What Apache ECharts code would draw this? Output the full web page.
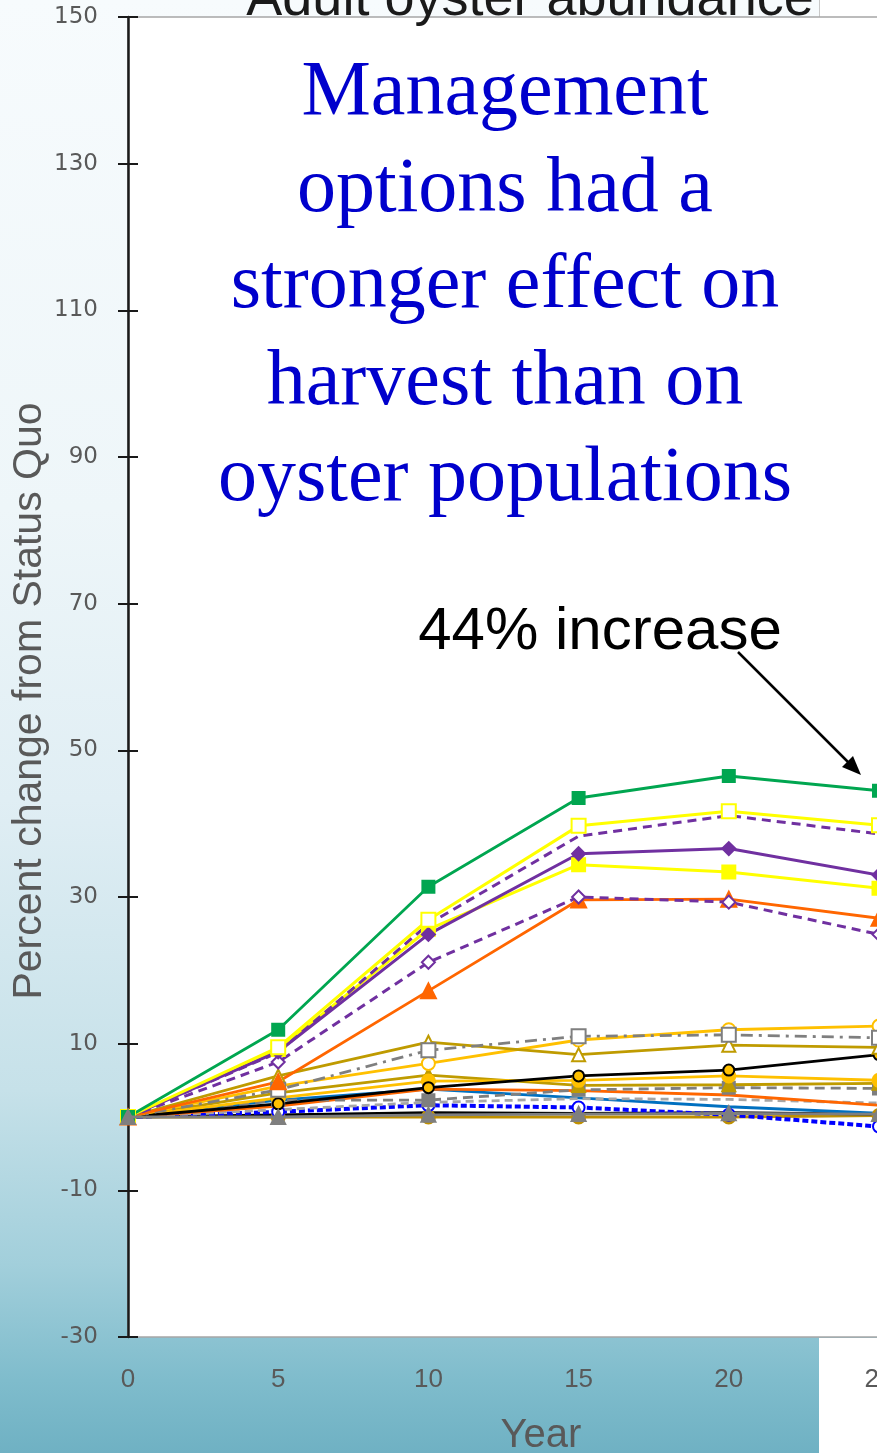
<!DOCTYPE html>
<html>
<head>
<meta charset="utf-8">
<script src="https://cdn.jsdelivr.net/npm/echarts@6/dist/echarts.min.js"></script>
<style>
html,body{margin:0;padding:0;}
#chart{width:877px;height:1453px;background:linear-gradient(180deg,#f7fbfd 0%,#eef6f9 35%,#e0eef4 55%,#c6e1e9 75%,#a2cfdb 87%,#7fbccc 95%,#6fb1c3 100%);}
</style>
</head>
<body>
<div id="chart"></div>
<script>
// ---- data ----
var years = [0, 5, 10, 15, 20, 25];
var yTicks = [-30, -10, 10, 30, 50, 70, 90, 110, 130, 150];
var greenSq        = [0, 11.9, 31.4, 43.5, 46.5, 44.5];
var yellowOpenSq   = [0, 9.5, 26.9, 39.7, 41.7, 39.8];
var purpleDash     = [0, 8.8, 26.3, 38.3, 41.1, 38.6];
var purpleDiamond  = [0, 8.9, 24.9, 35.9, 36.6, 33.0];
var yellowSq       = [0, 9.2, 25.6, 34.4, 33.4, 31.2];
var purpleOpenDia  = [0, 7.5, 21.1, 30.0, 29.3, 24.9];
var orangeTri      = [0, 4.8, 17.2, 29.6, 29.7, 27.1];
var greyDashDotSq  = [0, 3.7, 9.1, 11.0, 11.2, 10.8];
var oliveOpenTri   = [0, 5.6, 10.2, 8.5, 9.8, 9.5];
var goldOpenCircle = [0, 4.2, 7.3, 10.5, 11.9, 12.4];
var blackLine      = [0, 1.8, 4.0, 5.6, 6.4, 8.5];
var goldCircle     = [0, 2.6, 4.9, 5.0, 5.6, 5.0];
var oliveTri       = [0, 3.3, 5.7, 4.3, 4.4, 4.6];
var greyDashSq     = [0, 2.3, 2.3, 3.7, 4.0, 3.9];
var orangeLine     = [0, 1.5, 3.8, 3.6, 3.0, 1.6];
var greyDashLight  = [0, 1.0, 2.0, 2.5, 2.4, 1.9];
var blueLine       = [0, 2.3, 3.8, 2.6, 1.4, 0.5];
var blueDash       = [0, 0.7, 1.6, 1.3, 0.3, -1.3];
var blackZero      = [0, 0.3, 0.6, 0.5, 0.6, 0.4];
var darkGoldCircle = [0, 0, 0, 0, 0, 0.2];
var greyTri        = [0, 0, 0.3, 0.4, 0.5, 0.4];

function pts(arr){ return arr.map(function(v,i){ return [years[i], v]; }); }
function S(name, data, color, opt){
  opt = opt || {};
  return {
    name: name, type: 'line', data: pts(data),
    symbol: opt.symbol || 'none', symbolSize: opt.size || 12,
    lineStyle: {color: color, width: opt.width || 2.8, type: opt.dash || 'solid'},
    itemStyle: {color: opt.mcolor || color, borderColor: opt.bcolor || color, borderWidth: opt.bw || 2},
    z: opt.z || 2, animation: false, silent: true, clip: true
  };
}

var series = [
  S('darkGoldCircle', darkGoldCircle, '#bf9000', {symbol:'circle', size:13}),
  S('blackZero', blackZero, '#000000', {}),
  S('blueDash', blueDash, '#0000ff', {width:4, dash:[6,3], symbol:'emptyCircle', size:12}),
  S('blueLine', blueLine, '#0070c0', {}),
  S('greyDashLight', greyDashLight, '#a6a6a6', {dash:[8,5]}),
  S('orangeLine', orangeLine, '#ff6600', {}),
  S('greyDashSq', greyDashSq, '#7f7f7f', {dash:[10,6], symbol:'rect', size:12}),
  S('oliveTri', oliveTri, '#bf9b00', {symbol:'triangle', size:13}),
  S('goldCircle', goldCircle, '#ffc000', {symbol:'circle', size:13}),
  S('blackLine', blackLine, '#000000', {symbol:'circle', size:11, mcolor:'#ffc000', bcolor:'#000'}),
  S('goldOpenCircle', goldOpenCircle, '#ffc000', {symbol:'emptyCircle', size:13}),
  S('oliveOpenTri', oliveOpenTri, '#bf9b00', {symbol:'emptyTriangle', size:13}),
  S('greyDashDotSq', greyDashDotSq, '#7f7f7f', {dash:[12,6,3,6], symbol:'emptyRect', size:14}),
  S('orangeTri', orangeTri, '#ff6600', {symbol:'triangle', size:15}),
  S('purpleOpenDia', purpleOpenDia, '#7030a0', {dash:[9,6], width:3, symbol:'emptyDiamond', size:13}),
  S('yellowSq', yellowSq, '#ffff00', {symbol:'rect', size:13, width:3}),
  S('purpleDiamond', purpleDiamond, '#7030a0', {symbol:'diamond', size:13, width:3}),
  S('purpleDash', purpleDash, '#7030a0', {dash:[9,6], width:3}),
  S('yellowOpenSq', yellowOpenSq, '#ffff00', {symbol:'emptyRect', size:14, width:3}),
  S('greenSq', greenSq, '#00a650', {symbol:'rect', size:12, width:2.8}),
  S('greyTri', greyTri, '#7f7f7f', {symbol:'triangle', size:14, z:3})
];

var chart = echarts.init(document.getElementById('chart'), null, {renderer:'canvas'});
var gridLeft = 128, gridTop = 17, gridH = 1320, gridW = 751;
var blueFont = '78px "Liberation Serif"';
chart.setOption({
  backgroundColor: 'transparent',
  animation: false,
  grid: {left: gridLeft, top: gridTop, width: gridW, height: gridH, show: true,
         outerBoundsMode: 'none', containLabel: false,
         backgroundColor: '#ffffff', borderColor: '#a6a6a6', borderWidth: 1.5},
  xAxis: {type:'value', min:0, max:25, interval:5,
    axisLine:{show:false}, axisTick:{show:false}, splitLine:{show:false},
    axisLabel:{color:'#595959', fontFamily:'Liberation Sans', fontSize:26, margin:30, showMaxLabel:true, hideOverlap:false}
  },
  yAxis: [
    {type:'value', min:yTicks[0], max:yTicks[yTicks.length-1], interval:20,
     axisLine:{show:true, lineStyle:{color:'#1a1a1a', width:2.5}},
     axisTick:{show:true, length:10, lineStyle:{color:'#1a1a1a', width:2}},
     splitLine:{show:false},
     axisLabel:{color:'#595959', fontFamily:'DejaVu Sans', fontSize:23, margin:30}
    },
    {type:'value', min:yTicks[0], max:yTicks[yTicks.length-1], interval:20, position:'left',
     axisLine:{show:false}, axisTick:{show:true, inside:true, length:10, lineStyle:{color:'#1a1a1a', width:2}},
     splitLine:{show:false}, axisLabel:{show:false}
    }
  ],
  series: series,
  graphic: [
    {type:'rect', shape:{x:819, y:0, width:60, height:17}, style:{fill:'#ffffff'}, z:-10},
    {type:'line', shape:{x1:819.5, y1:0, x2:819.5, y2:17}, style:{stroke:'#c8c8c8', lineWidth:1}, z:-9},
    {type:'rect', shape:{x:819, y:1338, width:60, height:120}, style:{fill:'#ffffff'}, z:-10},
    {type:'text', x:530, y:27, style:{text:'Adult oyster abundance', font:'54px "Liberation Sans"', fill:'#1a1a1a', textAlign:'center', textVerticalAlign:'bottom'}, z:60},
    {type:'text', x:505, y:94, style:{text:'Management', font:blueFont, fill:'#0000cc', textAlign:'center', textVerticalAlign:'middle'}, z:60},
    {type:'text', x:505, y:191, style:{text:'options had a', font:blueFont, fill:'#0000cc', textAlign:'center', textVerticalAlign:'middle'}, z:60},
    {type:'text', x:505, y:287, style:{text:'stronger effect on', font:blueFont, fill:'#0000cc', textAlign:'center', textVerticalAlign:'middle'}, z:60},
    {type:'text', x:505, y:384, style:{text:'harvest than on', font:blueFont, fill:'#0000cc', textAlign:'center', textVerticalAlign:'middle'}, z:60},
    {type:'text', x:505, y:480, style:{text:'oyster populations', font:blueFont, fill:'#0000cc', textAlign:'center', textVerticalAlign:'middle'}, z:60},
    {type:'text', x:600, y:632, style:{text:'44% increase', font:'60px "Liberation Sans"', fill:'#000000', textAlign:'center', textVerticalAlign:'middle'}, z:60},
    {type:'line', shape:{x1:738, y1:652, x2:848, y2:762}, style:{stroke:'#000', lineWidth:2.5}, z:60},
    {type:'polygon', shape:{points:[[861,775],[842,767],[853,756]]}, style:{fill:'#000'}, z:60},
    {type:'text', x:30, y:701, rotation:Math.PI/2, style:{text:'Percent change from Status Quo', font:'41px "Liberation Sans"', fill:'#595959', textAlign:'center', textVerticalAlign:'middle'}, z:60},
    {type:'text', x:541, y:1436, style:{text:'Year', font:'40px "Liberation Sans"', fill:'#595959', textAlign:'center', textVerticalAlign:'middle'}, z:60}
  ]
});
</script>
</body>
</html>
